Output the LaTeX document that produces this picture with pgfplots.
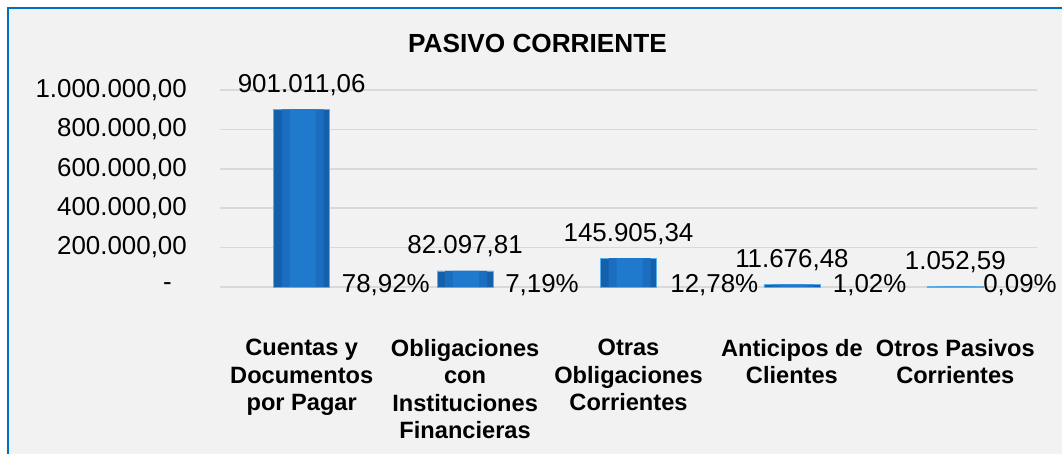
\documentclass[border=0pt]{standalone}
\usepackage{pgfplots}
\pgfplotsset{compat=1.18}
\usepackage{fontspec}
\setmainfont{Liberation Sans}
\definecolor{frameblue}{HTML}{0070C0}
\definecolor{panel}{HTML}{F2F2F2}
\definecolor{gridgray}{HTML}{D9D9D9}
\definecolor{bardark}{HTML}{1560AA}
\definecolor{barmid}{HTML}{1A6DBF}
\definecolor{barlight}{HTML}{1F79CC}
\definecolor{baredge}{HTML}{5AAEEA}
\newcommand{\numfont}{\fontsize{26}{30}\selectfont}
\newcommand{\catfont}{\fontsize{23.7}{27.5}\selectfont\bfseries}
\pgfplotstableread{
x y lab
0 901011.06 901.011,06
1 82097.81 82.097,81
2 145905.34 145.905,34
3 11676.48 11.676,48
4 1052.59 1.052,59
}\valores
\begin{document}
\begin{tikzpicture}[x=1bp,y=1bp]
\useasboundingbox (0,0) rectangle (1062,454);
\fill[white] (0,0) rectangle (1062,454);
\draw[frameblue, line width=2.2bp, fill=panel] (8,-20) rectangle (1090,446);
\node[font=\fontsize{26.3}{30}\selectfont\bfseries, anchor=base, inner sep=0pt] at (537.5,401) {PASIVO CORRIENTE};
\begin{axis}[
  at={(220bp,167bp)}, anchor=south west,
  scale only axis, width=817bp, height=197bp,
  xmin=-0.5, xmax=4.5, ymin=0, ymax=1000000,
  axis line style={draw=none}, major tick length=0pt,
  ymajorgrids, grid style={gridgray, line width=1.5bp},
  scaled y ticks=false,
  ytick={0,200000,400000,600000,800000,1000000},
  yticklabels={{-\hspace*{15bp}},{200.000,00},{400.000,00},{600.000,00},{800.000,00},{1.000.000,00}},
  yticklabel style={font=\numfont, anchor=east, inner sep=0pt, xshift=-33bp},
  xtick={0,1,2,3,4},
  xticklabels={{Cuentas y\\Documentos\\por Pagar},{Obligaciones\\con\\Instituciones\\Financieras},{Otras\\Obligaciones\\Corrientes},{Anticipos de\\Clientes},{Otros Pasivos\\Corrientes}},
  xticklabel style={font=\catfont, align=center, anchor=north, inner sep=0pt, yshift=-52bp},
  clip=false,
]
\addplot[ybar, bar width=56bp, bar shift=0pt, draw=baredge, line width=0.6bp, fill=bardark,
  nodes near coords, point meta=explicit symbolic,
  every node near coord/.append style={font=\numfont, anchor=base, inner sep=0pt, yshift=17bp, text=black}]
  table[x=x, y=y, meta=lab] {\valores};
\addplot[ybar, bar width=42bp, bar shift=1bp, draw=none, fill=barmid] table[x=x, y=y] {\valores};
\addplot[ybar, bar width=26bp, bar shift=1bp, draw=none, fill=barlight] table[x=x, y=y] {\valores};
\addplot[draw=none, mark=none,
  nodes near coords, point meta=explicit symbolic,
  every node near coord/.append style={font=\numfont, anchor=west, inner sep=0pt, yshift=2bp, text=black}]
  coordinates {(0.245,0) [78,92\%] (1.245,0) [7,19\%] (2.255,0) [12,78\%] (3.25,0) [1,02\%] (4.17,0) [0,09\%]};
\end{axis}
\end{tikzpicture}
\end{document}
